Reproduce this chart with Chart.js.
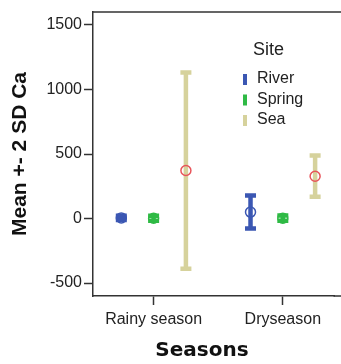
<!DOCTYPE html>
<html>
<head>
<meta charset="utf-8">
<script src="https://cdn.jsdelivr.net/npm/chart.js@4"></script>
<style>
  html, body { margin: 0; padding: 0; background: #fff; overflow: hidden; }
  #wrap { width: 341px; height: 364px; }
</style>
</head>
<body>
<div id="wrap"><canvas id="chart" width="341" height="364"></canvas></div>
<script>
// seasons on the x axis
const seasons = ["Rainy season", "Dryseason"]
// sites (legend)
const sites = ["River", "Spring", "Sea"]
// mean Ca per site, one value per season
const riverMean = [5, 50]
const springMean = [2, 3]
const seaMean = [372, 328]
// standard deviation per site, one value per season
const riverSD = [8, 64]
const springSD = [10, 10]
const seaSD = [380, 80]
// y axis ticks
const yTicks = [-500, 0, 500, 1000, 1500]

const means = [riverMean, springMean, seaMean]
const sds = [riverSD, springSD, seaSD]
const siteColors = ["#3b57b3", "#2fba45", "#d6d29c"]
const meanColors = ["#3b57b3", "#2fba45", "#e8545a"]
const groupOffset = 0.25

const font = "'Liberation Sans', Arial, sans-serif"

const datasets = sites.map((site, s) => ({
  label: site,
  data: seasons.map((c, i) => ({ x: i + (s - 1) * groupOffset, y: means[s][i] })),
  pointStyle: "circle",
  pointRadius: 5,
  pointBorderWidth: 1.5,
  pointBorderColor: meanColors[s],
  pointBackgroundColor: "rgba(255,255,255,0)",
  showLine: false,
}))

// error bars (mean +- 2 SD) drawn through the chart scales
const errorBars = {
  id: "errorBars",
  beforeDatasetsDraw(chart) {
    const { ctx } = chart
    const xs = chart.scales.x
    const ys = chart.scales.y
    ctx.save()
    sites.forEach((site, s) => {
      seasons.forEach((c, i) => {
        const px = xs.getPixelForValue(i + (s - 1) * groupOffset)
        const top = ys.getPixelForValue(means[s][i] + 2 * sds[s][i])
        const bot = ys.getPixelForValue(means[s][i] - 2 * sds[s][i])
        ctx.strokeStyle = siteColors[s]
        ctx.lineWidth = 4.5
        ctx.beginPath()
        ctx.moveTo(px, top)
        ctx.lineTo(px, bot)
        ctx.stroke()
        ctx.beginPath()
        ctx.moveTo(px - 5.5, top)
        ctx.lineTo(px + 5.5, top)
        ctx.moveTo(px - 5.5, bot)
        ctx.lineTo(px + 5.5, bot)
        ctx.stroke()
      })
    })
    ctx.restore()
  },
}

// frame lines running off the right edge, legend and x title
const decorations = {
  id: "decorations",
  afterDraw(chart) {
    const { ctx, chartArea } = chart
    ctx.save()
    ctx.strokeStyle = "#333"
    ctx.lineWidth = 1.5
    ctx.beginPath()
    ctx.moveTo(chartArea.left, chartArea.top)
    ctx.lineTo(chart.width, chartArea.top)
    ctx.moveTo(chartArea.right - 1, chartArea.bottom)
    ctx.lineTo(chart.width, chartArea.bottom)
    ctx.stroke()

    ctx.fillStyle = "#222"
    ctx.textBaseline = "middle"
    ctx.textAlign = "left"
    ctx.font = "18px " + font
    ctx.fillText("Site", 253, 50)
    ctx.font = "16px " + font
    sites.forEach((site, s) => {
      const y = 79 + s * 20.5
      ctx.fillStyle = siteColors[s]
      ctx.fillRect(243, y - 5, 4, 11)
      ctx.fillStyle = "#222"
      ctx.fillText(site, 257, y)
    })

    ctx.fillStyle = "#111"
    ctx.textAlign = "center"
    ctx.font = "bold 20px 'DejaVu Sans', Verdana, sans-serif"
    ctx.fillText("Seasons", 202, 351)
    ctx.restore()
  },
}

new Chart(document.getElementById("chart"), {
  type: "scatter",
  data: { datasets },
  options: {
    responsive: false,
    devicePixelRatio: 1,
    animation: false,
    layout: { padding: { top: 12, right: 0, left: 0, bottom: 0 } },
    plugins: {
      legend: { display: false },
      tooltip: { enabled: false },
    },
    scales: {
      x: {
        type: "linear",
        min: -0.469,
        max: 1.4,
        afterBuildTicks: (axis) => {
          axis.ticks = seasons.map((c, i) => ({ value: i }))
        },
        afterFit: (scale) => {
          scale.height = 68
          scale.paddingLeft = 0
          scale.paddingRight = 0
        },
        grid: { drawOnChartArea: false, drawTicks: true, tickLength: 9, tickColor: "#333", tickWidth: 1.5 },
        border: { display: true, color: "#333", width: 1.5 },
        ticks: {
          padding: 5,
          color: "#222",
          font: { family: font, size: 16 },
          maxRotation: 0,
          callback: (v) => seasons[v],
        },
      },
      y: {
        min: -600,
        max: 1600,
        afterBuildTicks: (axis) => {
          axis.ticks = yTicks.map((v) => ({ value: v }))
        },
        afterFit: (scale) => {
          scale.width = 93
          scale.paddingTop = 0
          scale.paddingBottom = 0
        },
        grid: { drawOnChartArea: false, drawTicks: true, tickLength: 9, tickColor: "#333", tickWidth: 1.5 },
        border: { display: true, color: "#333", width: 1.5 },
        ticks: {
          padding: 2,
          color: "#222",
          font: { family: font, size: 16 },
          callback: (v) => String(v),
        },
        title: {
          display: true,
          text: "Mean +- 2 SD Ca",
          color: "#111",
          font: { family: font, size: 21, weight: "bold" },
          padding: { top: 8, bottom: 0 },
        },
      },
    },
  },
  plugins: [errorBars, decorations],
})
</script>
</body>
</html>
